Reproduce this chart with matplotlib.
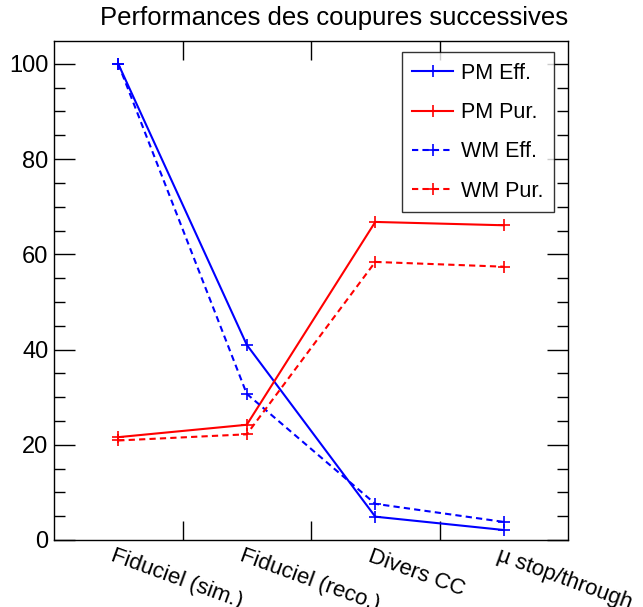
import matplotlib
matplotlib.use('Agg')
import matplotlib.pyplot as plt
from matplotlib.ticker import MultipleLocator, FixedLocator, NullFormatter

plt.rcParams['font.family'] = ['Liberation Sans', 'DejaVu Sans']

# coupures successives
categories = ['Fiduciel (sim.)', 'Fiduciel (reco.)', 'Divers CC', 'µ stop/through']
pm_eff = [100.0, 41.0, 4.9, 2.1]
pm_pur = [21.6, 24.2, 66.8, 66.1]
wm_eff = [100.0, 30.7, 7.6, 3.8]
wm_pur = [20.9, 22.2, 58.4, 57.4]

fig = plt.figure(figsize=(6.43, 6.07), dpi=100)
ax = fig.add_axes([54 / 643, 1 - 540 / 607, 514 / 643, 499 / 607])

xs = [i + 0.5 for i in range(len(categories))]
style = dict(marker='+', markersize=9, markeredgewidth=1.2, linewidth=1.5)
ax.plot(xs, pm_eff, color='#0000ff', linestyle='-', label='PM Eff.', **style)
ax.plot(xs, pm_pur, color='#ff0000', linestyle='-', label='PM Pur.', **style)
ax.plot(xs, wm_eff, color='#0000ff', linestyle=(0, (3, 2)), label='WM Eff.', **style)
ax.plot(xs, wm_pur, color='#ff0000', linestyle=(0, (3, 2)), label='WM Pur.', **style)

ax.set_xlim(0, 4)
ax.set_ylim(0, 104.8)

# ticks style ROOT
ax.xaxis.set_major_locator(FixedLocator([1, 2, 3]))
ax.xaxis.set_major_formatter(NullFormatter())
ax.yaxis.set_major_locator(MultipleLocator(20))
ax.yaxis.set_minor_locator(MultipleLocator(5))
ax.tick_params(axis='both', which='both', direction='in', top=True, right=True)
ax.tick_params(axis='y', which='major', length=15, width=1, labelsize=17, pad=4)
ax.tick_params(axis='y', which='minor', length=8, width=1)
ax.tick_params(axis='x', which='major', length=14, width=1)
for s in ax.spines.values():
    s.set_linewidth(1.0)

for x, lab in zip(xs, categories):
    ax.text(x - 0.02, -1.2, lab, rotation=-20, rotation_mode='anchor',
            ha='left', va='top', fontsize=16)

fig.text(334 / 643, 1 - 18 / 607, 'Performances des coupures successives',
         ha='center', va='center', fontsize=18.5)

leg = ax.legend(loc='upper right', bbox_to_anchor=(554 / 643, 1 - 52 / 607),
                bbox_transform=fig.transFigure, fontsize=15.5, frameon=True,
                fancybox=False, handlelength=1.9, handletextpad=0.35,
                labelspacing=0.85, borderpad=0.5, borderaxespad=0)
leg.get_frame().set_edgecolor('black')
leg.get_frame().set_linewidth(1.0)

fig.savefig('out.png', dpi=100)
